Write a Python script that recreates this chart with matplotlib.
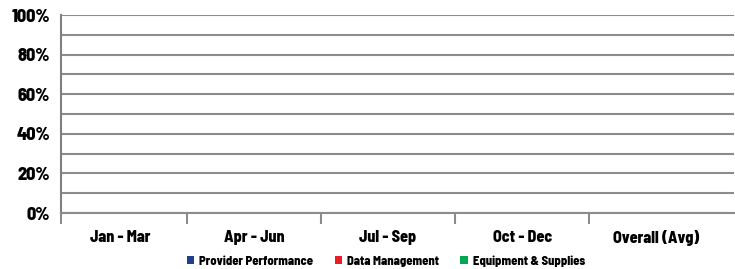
import matplotlib
matplotlib.use("Agg")
import matplotlib.pyplot as plt
import numpy as np
from matplotlib.ticker import FixedLocator, PercentFormatter
from matplotlib.patches import Patch

categories = ["Jan - Mar", "Apr - Jun", "Jul - Sep", "Oct - Dec", "Overall (Avg)"]
series_names = ["Provider Performance", "Data Management", "Equipment & Supplies"]
provider_performance = [0, 0, 0, 0, 0]
data_management = [0, 0, 0, 0, 0]
equipment_supplies = [0, 0, 0, 0, 0]
colors = ["#203F8F", "#ED1C24", "#00A650"]

plt.rcParams['font.family'] = ['Barlow Semi Condensed', 'DejaVu Sans']
plt.rcParams['font.weight'] = 800

fig = plt.figure(figsize=(7.35, 2.69), dpi=100)
ax = fig.add_axes([61/735, (269-213)/269, (734-61)/735, (213-15)/269])

x = np.arange(len(categories))
w = 0.22
for i, (vals, name, c) in enumerate(zip([provider_performance, data_management, equipment_supplies], series_names, colors)):
    ax.bar(x + (i - 1) * w, vals, w, color=c, label=name, linewidth=0)

ax.set_xlim(-0.44, 4.58)
ax.set_ylim(0, 1.0)

grid_c = "#8C8C8C"
ax.yaxis.set_major_locator(FixedLocator(np.arange(0, 1.01, 0.2)))
ax.yaxis.set_minor_locator(FixedLocator(np.arange(0.1, 1.0, 0.2)))
ax.yaxis.set_major_formatter(PercentFormatter(1.0, decimals=0))
ax.grid(axis='y', which='both', color=grid_c, linewidth=1.5)
ax.set_axisbelow(True)
ax.tick_params(axis='y', which='both', length=0, labelsize=13, pad=8)

ax.xaxis.set_major_locator(FixedLocator([-0.44, 0.5, 1.5, 2.5, 3.5]))
ax.xaxis.set_major_formatter(plt.NullFormatter())
ax.set_xticks(x, minor=True)
ax.set_xticklabels(categories, minor=True, fontsize=11.5, fontweight=800)
ax.tick_params(axis='x', which='major', length=8, width=1.5, color=grid_c)
ax.tick_params(axis='x', which='minor', length=0, pad=12)

for s in ['top', 'right']:
    ax.spines[s].set_visible(False)
ax.spines['left'].set_color("#7F7F7F")
ax.spines['left'].set_linewidth(1.5)
ax.spines['bottom'].set_color(grid_c)
ax.spines['bottom'].set_linewidth(1.5)

for lbl in ax.get_yticklabels():
    lbl.set_fontweight(800)

handles = [Patch(facecolor=c, label=n) for c, n in zip(colors, series_names)]
fig.legend(handles=handles, loc='center', bbox_to_anchor=(386/735, 1 - 261/269),
           ncol=3, frameon=False, handlelength=0.6, handleheight=0.6,
           handletextpad=0.4, columnspacing=1.7, prop={'weight': 800, 'size': 9})

fig.savefig("out.png", dpi=100)
